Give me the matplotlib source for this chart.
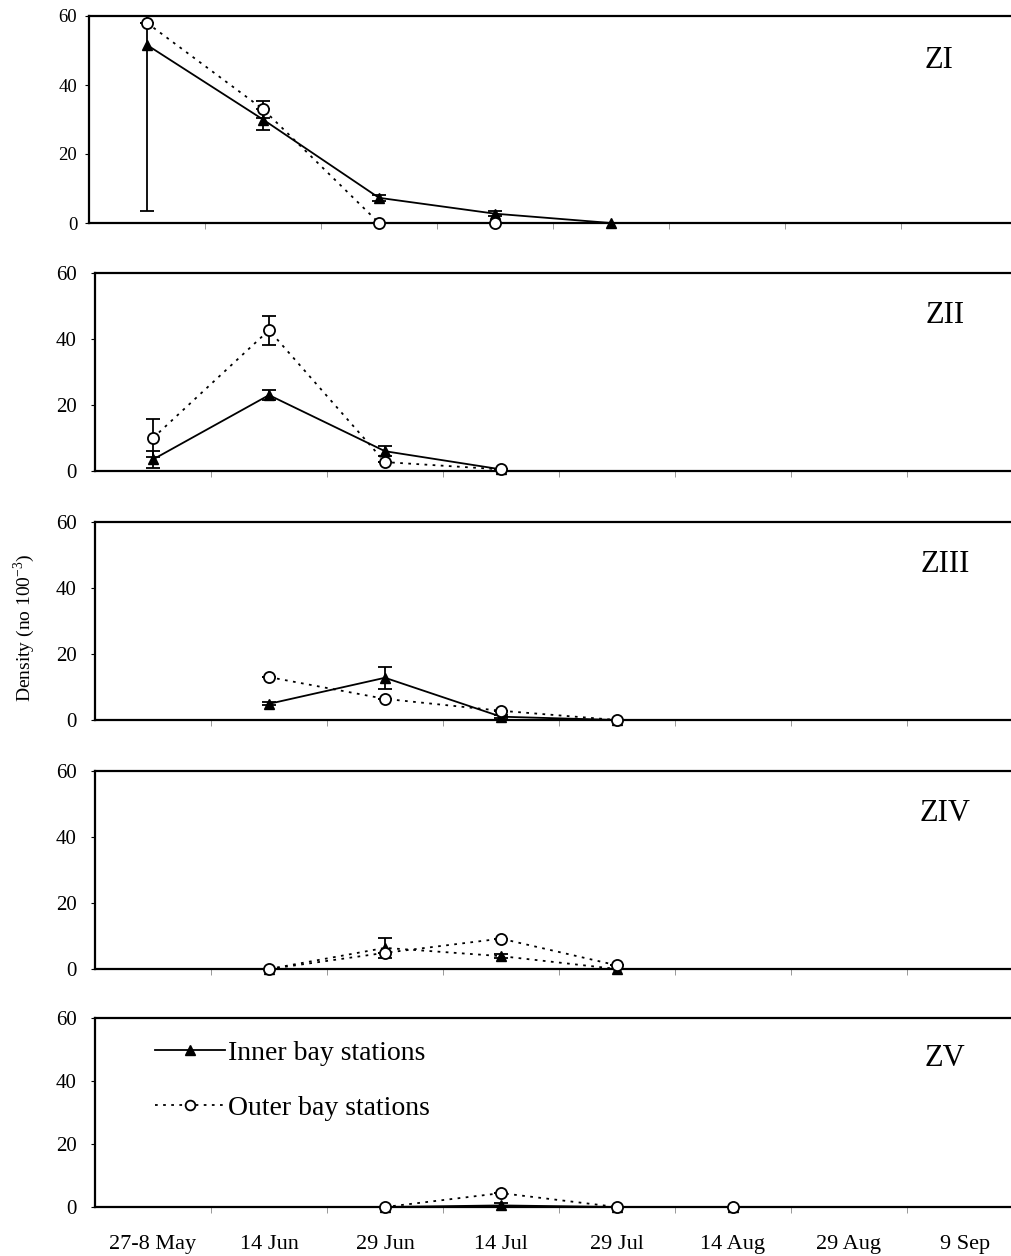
import matplotlib
matplotlib.use("Agg")
import matplotlib.pyplot as plt
from matplotlib.ticker import FixedLocator
from matplotlib.lines import Line2D

plt.rcParams['font.family'] = ['Liberation Serif', 'DejaVu Serif']
plt.rcParams['mathtext.fontset'] = 'custom'
plt.rcParams['mathtext.rm'] = 'Liberation Serif'

# --- DATA ---
dates = ["27-8 May", "14 Jun", "29 Jun", "14 Jul", "29 Jul", "14 Aug", "29 Aug", "9 Sep"]
zones = ["ZI", "ZII", "ZIII", "ZIV", "ZV"]

inner_x = [[0, 1, 2, 3, 4], [0, 1, 2, 3], [1, 2, 3, 4], [1, 2, 3, 4], [2, 3, 4, 5]]
inner_y = [[51.6, 30.0, 7.3, 2.7, 0.0],
           [3.5, 23.0, 6.0, 0.5],
           [4.9, 12.8, 1.0, 0.0],
           [0.0, 6.4, 3.9, 0.0],
           [0.0, 0.5, 0.0, 0.0]]
inner_err = [[48.0, 3.0, 0.8, 0.8, 0.0],
             [2.7, 1.5, 1.5, 0.0],
             [0.5, 3.4, 0.5, 0.0],
             [0.0, 3.1, 0.5, 0.0],
             [0.0, 0.8, 0.0, 0.0]]

outer_x = [[0, 1, 2, 3], [0, 1, 2, 3], [1, 2, 3, 4], [1, 2, 3, 4], [2, 3, 4, 5]]
outer_y = [[58.0, 33.0, 0.0, 0.0],
           [10.0, 42.7, 2.7, 0.5],
           [13.0, 6.4, 2.8, 0.0],
           [0.0, 4.9, 9.2, 1.1],
           [0.0, 4.4, 0.0, 0.0]]
outer_err = [[0.0, 2.5, 0.0, 0.0],
             [5.7, 4.4, 0.0, 0.0],
             [0.0, 0.0, 0.0, 0.0],
             [0.0, 0.0, 0.0, 0.0],
             [0.0, 0.0, 0.0, 0.0]]

dotted = (0, (1.5, 3))
# inner line style per panel (ZIV drawn dotted in the original)
inner_styles = ['-', '-', '-', dotted, '-']

# --- LAYOUT (pixels) ---
W, H = 1011, 1256
panel_tops = [16, 273, 522, 771, 1018]
panel_bottoms = [223, 471, 720, 969, 1207]
panel_lefts = [89, 95, 95, 95, 95]
panel_width = 928
tick_sizes = [13.5, 15, 15, 15, 15]
tick_pads = [5.5, 10, 10, 10, 10]

fig = plt.figure(figsize=(W / 100, H / 100), dpi=100)

axes = []
for i, z in enumerate(zones):
    left = panel_lefts[i] / W
    bottom = 1 - panel_bottoms[i] / H
    height = (panel_bottoms[i] - panel_tops[i]) / H
    ax = fig.add_axes([left, bottom, panel_width / W, height])
    axes.append(ax)

    # error bars (clipped to the panel)
    ax.errorbar(inner_x[i], inner_y[i], yerr=inner_err[i], fmt='none',
                ecolor='black', elinewidth=1.3, capsize=5, capthick=1.3, zorder=2)
    ax.errorbar(outer_x[i], outer_y[i], yerr=outer_err[i], fmt='none',
                ecolor='black', elinewidth=1.3, capsize=5, capthick=1.3, zorder=2)

    # lines and markers (not clipped so points on zero stay whole)
    ax.plot(inner_x[i], inner_y[i], color='black', linestyle=inner_styles[i],
            linewidth=1.3, marker='^', markersize=7.5, markerfacecolor='black',
            markeredgecolor='black', clip_on=False, zorder=3)
    ax.plot(outer_x[i], outer_y[i], color='black', linestyle=dotted,
            linewidth=1.3, marker='o', markersize=8, markerfacecolor='white',
            markeredgecolor='black', markeredgewidth=1.3, clip_on=False, zorder=4)

    ax.set_xlim(-0.5, 7.5)
    ax.set_ylim(0, 60)
    ax.set_yticks([0, 20, 40, 60])
    ax.tick_params(axis='y', direction='out', length=3, width=0.8, pad=tick_pads[i],
                   labelsize=tick_sizes[i], colors='black')
    ax.set_xticks(range(len(dates)))
    ax.xaxis.set_minor_locator(FixedLocator([k + 0.5 for k in range(7)]))
    ax.tick_params(axis='x', which='minor', direction='out', length=4, width=0.6, color='#888888')
    ax.tick_params(axis='x', which='major', length=0, pad=20, labelsize=16)
    if i < len(zones) - 1:
        ax.set_xticklabels([])
    else:
        ax.set_xticklabels(dates)

    for s in ['left', 'top', 'bottom']:
        ax.spines[s].set_linewidth(1.6)
        ax.spines[s].set_color('black')
    ax.spines['right'].set_visible(False)

    ax.text(6.83, 47, z, ha='center', va='center', fontsize=22)

# legend in the last panel
handles = [
    Line2D([], [], color='black', linestyle='-', linewidth=1.3, marker='^',
           markersize=7, markerfacecolor='black'),
    Line2D([], [], color='black', linestyle=dotted, linewidth=1.3, marker='o',
           markersize=7, markerfacecolor='white', markeredgewidth=1.3),
]
axes[-1].legend(handles, ['Inner bay stations', 'Outer bay stations'],
                loc='upper left', bbox_to_anchor=(0.065, 0.88), frameon=False,
                fontsize=20, handlelength=2.5, handletextpad=0.1,
                labelspacing=1.05, borderpad=0, borderaxespad=0)

fig.text(24 / W, 1 - 628 / H, 'Density (no 100$^{-3}$)', rotation=90,
         ha='center', va='center', fontsize=14)

fig.savefig('out.png', dpi=100)
